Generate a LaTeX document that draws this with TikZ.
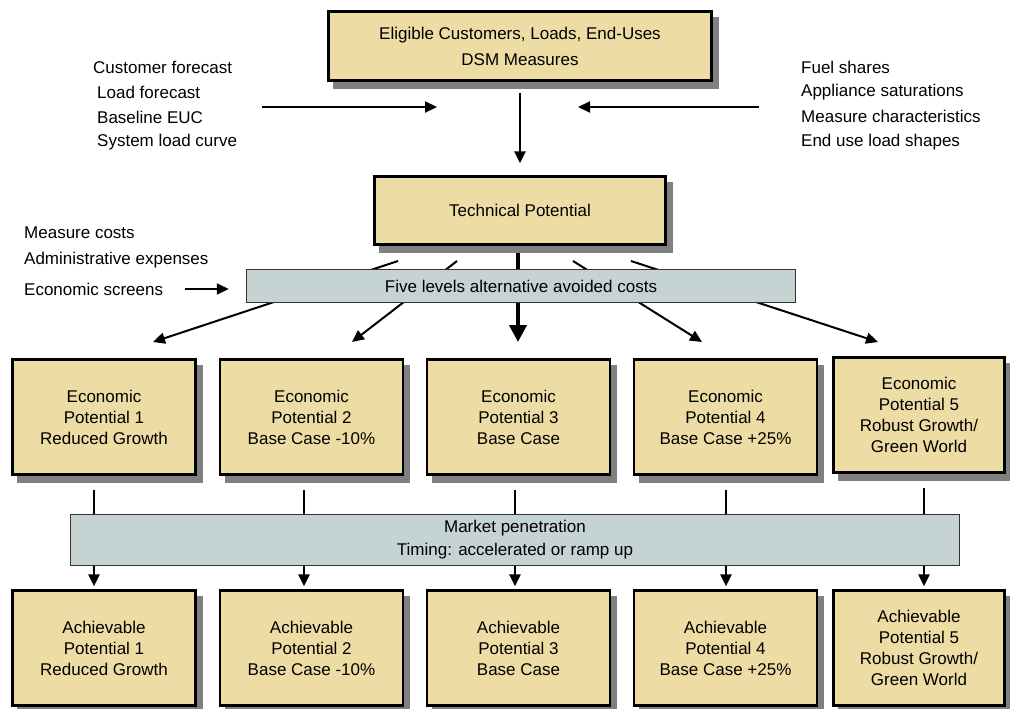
\documentclass[tikz,border=0pt]{standalone}
\usepackage{fontspec}
\setmainfont{Liberation Sans}
\usetikzlibrary{arrows.meta,backgrounds}
\definecolor{tanbox}{RGB}{238,220,165}
\definecolor{greybox}{RGB}{197,211,211}
\tikzset{
  potbox/.style={draw=black, line width=2.5pt, fill=tanbox, align=center, inner sep=0pt,
    font=\fontsize{17}{21}\selectfont,
    preaction={draw=black!50, fill=black!50, transform canvas={shift={(6pt,-7pt)}}}},
  barbox/.style={draw=black!80, line width=1.5pt, fill=greybox, align=center, inner sep=0pt,
    font=\fontsize{17}{23}\selectfont},
  lbl/.style={anchor=west, inner sep=0pt, font=\fontsize{17}{21}\selectfont},
  arr/.style={line width=2pt, -{Triangle[length=12pt,width=11pt]}},
  bigarr/.style={line width=4pt, -{Triangle[length=17pt,width=17pt]}},
}
\begin{document}
\begin{tikzpicture}[x=1pt,y=-1pt]
    \useasboundingbox (0,0) rectangle (1010,709);
    %boxes on top
    \node[potbox, minimum width=383, minimum height=69] (top) at (520,46)
        {Eligible Customers, Loads, End-Uses\\[5pt]DSM Measures};
    \node[potbox, minimum width=291, minimum height=68] (tech) at (520,210.5) {Technical Potential};
    \node[barbox, minimum width=549, minimum height=33] (five) at (521,286)
        {Five levels alternative avoided costs};
    %inputs left and right
    \node[lbl] (cf) at (93,67) {Customer forecast};
    \node[lbl] (lf) at (97,92) {Load forecast};
    \node[lbl] (be) at (97,117) {Baseline EUC};
    \node[lbl] (sl) at (97,142) {System load curve};
    \node[lbl] (fs) at (801,67) {Fuel shares};
    \node[lbl] (as) at (801,92) {Appliance saturations};
    \node[lbl] (mc) at (801,116) {Measure characteristics};
    \node[lbl] (el) at (801,142) {End use load shapes};
    \node[lbl] (mcost) at (24,233) {Measure costs};
    \node[lbl] (adm) at (24,260) {Administrative expenses};
    \node[lbl] (scr) at (24,289) {Economic screens};
    %economic potentials
    \node[potbox, minimum width=183, minimum height=115] (econ1) at (104,417)
        {Economic\\Potential 1\\Reduced Growth};
    \node[potbox, minimum width=183, minimum height=115] (econ2) at (311.5,417)
        {Economic\\Potential 2\\Base Case -10\%};
    \node[potbox, minimum width=183, minimum height=115] (econ3) at (518.5,417)
        {Economic\\Potential 3\\Base Case};
    \node[potbox, minimum width=183, minimum height=115] (econ4) at (725.5,417)
        {Economic\\Potential 4\\Base Case +25\%};
    \node[potbox, minimum width=171, minimum height=115] (econ5) at (919,415)
        {Economic\\Potential 5\\Robust Growth/\\Green World};
    \node[barbox, minimum width=889, minimum height=51] (market) at (515,540)
        {Market penetration\\Timing: accelerated or ramp up};
    %achievable potentials
    \node[potbox, minimum width=183, minimum height=115] (ach1) at (104,648)
        {Achievable\\Potential 1\\Reduced Growth};
    \node[potbox, minimum width=183, minimum height=115] (ach2) at (311.5,648)
        {Achievable\\Potential 2\\Base Case -10\%};
    \node[potbox, minimum width=183, minimum height=115] (ach3) at (518.5,648)
        {Achievable\\Potential 3\\Base Case};
    \node[potbox, minimum width=183, minimum height=115] (ach4) at (725.5,648)
        {Achievable\\Potential 4\\Base Case +25\%};
    \node[potbox, minimum width=171, minimum height=115] (ach5) at (919,648)
        {Achievable\\Potential 5\\Robust Growth/\\Green World};
    %arrows into the first step
    \coordinate (la) at (262,107);
    \coordinate (lb) at (437,107);
    \coordinate (ra) at (759,107);
    \coordinate (rb) at (578,107);
    \draw[arr] (la) -- (lb);
    \draw[arr] (ra) -- (rb);
    \draw[arr, line width=2.5pt, shorten <=11pt, shorten >=12pt] (top.south) -- (tech.north);
    \draw[arr, shorten <=22pt, shorten >=17pt] (scr.east) -- (scr.east -| five.west);
    %fan out under the avoided costs bar
    \coordinate (s1) at (398,261);
    \coordinate (s2) at (457,261);
    \coordinate (s4) at (573,261);
    \coordinate (s5) at (631,261);
    \coordinate (t1) at (153,342);
    \coordinate (t2) at (352,342);
    \coordinate (t3) at (518,342);
    \coordinate (t4) at (702,342);
    \coordinate (t5) at (878,342);
    \begin{scope}[on background layer]
        \draw[bigarr] (tech.south -| t3) -- (t3);
        \foreach \i in {1,2,4,5}
            \draw[arr] (s\i) -- (t\i);
    \end{scope}
    %market penetration
    \foreach \i/\x in {1/94,2/304,3/515,4/726,5/924} {
        \coordinate (c\i) at (\x,0);
        \draw[line width=2.5pt, shorten <=14pt] (econ\i.south -| c\i) -- (market.north -| c\i);
        \draw[arr, line width=2.5pt, shorten >=3pt] (market.south -| c\i) -- (ach\i.north -| c\i);
    }
\end{tikzpicture}
\end{document}
